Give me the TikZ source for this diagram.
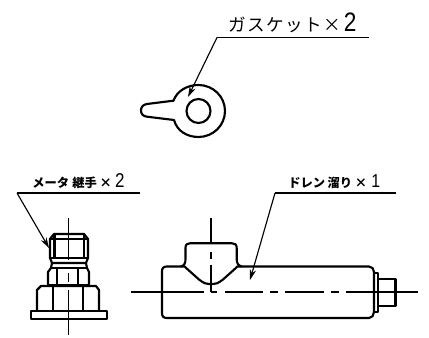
\documentclass[tikz,border=0pt]{standalone}
\usepackage{fontspec}
\setmainfont{Noto Sans CJK JP}
\newfontfamily\dgt{Liberation Sans}
\usetikzlibrary{arrows.meta}
\newcommand{\bigdig}[2]{{\mdseries\dgt\fontsize{#1}{#1}\selectfont\scalebox{0.85}[1]{#2}}}
\tikzset{
  body/.style={line width=1.6pt,line join=round,line cap=round},
  thin line/.style={line width=0.85pt},
  leader/.style={line width=0.85pt,-{Stealth[length=8pt,width=4.8pt]}},
  lbl/.style={inner sep=0pt,anchor=base west}
}
\begin{document}
\begin{tikzpicture}[x=0.75pt,y=-0.75pt]
\useasboundingbox (0,0) rectangle (429,338);
% gasket
\node[lbl,font=\fontsize{13.2pt}{14pt}\selectfont] (t1) at (228,31.5) {ガ\kern1pt ス\kern1pt ケ\kern1pt ッ\kern1pt ト\kern1.5pt ×\kern2pt\bigdig{20pt}{2}};
\coordinate (g1) at (217,37.5);
\coordinate (g2) at (369,37.5);
\coordinate (g3) at (188,97);
\draw[thin line] (g2) -- (g1);
\draw[leader] (g1) -- (g3);
\draw[body] (173.5,100.7) .. controls (177,91) and (187,85) .. (198.5,85)
  .. controls (213,85) and (225,96.5) .. (225,111) .. controls (225,125.5) and (213,137) .. (198.5,137)
  .. controls (187,137) and (177,131) .. (174,120)
  -- (147,116.7) .. controls (143,116.2) and (141,114) .. (141,110.5) .. controls (141,107) and (143,104.6) .. (147,104) -- cycle;
\node[body,draw,circle,minimum size=18pt,inner sep=0pt] (hole) at (198.5,111) {};
% meter joint
\node[lbl,font=\fontsize{9.2pt}{10pt}\selectfont\bfseries] (t2) at (32,187.5) {メータ\kern2.5pt 継手\kern2pt ×\kern2.5pt\bigdig{15pt}{2}};
\coordinate (m1) at (17,193);
\coordinate (m2) at (140,193);
\coordinate (m3) at (49,248);
\draw[thin line] (m2) -- (m1);
\draw[leader] (m1) -- (m3);
\draw[thin line] (68.3,218) -- (68.3,260) (68.3,273) -- (68.3,282) (68.3,290) -- (68.3,335);
\draw[body] (50,258) -- (50,239) -- (54,234) -- (84,234) -- (88,239) -- (88,258) -- (86,263) -- (52,263) -- cycle;
\draw[body] (54.5,234) -- (54.5,258) (84,234) -- (84,258);
\draw[body] (50,239) -- (88,239);
\draw[body] (50,258) -- (88,258);
\draw[body] (52,263) -- (51,268) -- (48,272) -- (48,284) (86,263) -- (87,268) -- (89,272) -- (89,284);
\draw[body] (51,268) -- (87,268);
\draw[body] (57,268) -- (57,284) (78,268) -- (78,284);
\draw[body] (37,311) -- (37,290) -- (41,286) -- (96,286) -- (99,290) -- (99,311);
\draw[body] (48,285) -- (89,285);
\draw[body] (53,286) -- (53,311) (83,286) -- (83,311);
\draw[body] (31,311) rectangle (107,319);
% drain
\node[lbl,font=\fontsize{9.2pt}{10pt}\selectfont\bfseries] (t3) at (288,187.5) {ドレン\kern2pt 溜り\kern2pt ×\kern3.2pt\bigdig{14pt}{1}};
\coordinate (d1) at (275,193);
\coordinate (d2) at (396,193);
\coordinate (d3) at (250,280);
\draw[thin line] (d2) -- (d1);
\draw[leader] (d1) -- (d3);
\draw[thin line] (211,218) -- (211,243) (211,252) -- (211,259) (211,265) -- (211,292);
\draw[thin line] (131,292) -- (203.5,292) (211,292) -- (217,292) (225,292) -- (263,292) (270,292) -- (278,292) (285,292) -- (324,292) (331,292) -- (339,292) (346,292) -- (418,292);
% body outline
\draw[body] (185,266.5) -- (167,266.5) .. controls (163.5,266.5) and (162,268) .. (162,271.5) -- (162,313) .. controls (162,316.5) and (163.5,318) .. (167,318) -- (369,318) .. controls (372,318) and (374,315) .. (374,312) -- (374,272) .. controls (374,269) and (372,266.5) .. (369,266.5) -- (237,266.5);
\draw[body] (181,266.5) .. controls (184.5,265.5) and (185.5,263) .. (185.5,259) -- (185.5,248) .. controls (185.5,244.5) and (187,243.3) .. (190,243.3) -- (232,243.3) .. controls (235,243.3) and (236.7,244.5) .. (236.7,248) -- (236.7,259) .. controls (236.7,263) and (238,265.5) .. (241.5,266.5);
\draw[body] (185,267) -- (199,279.5) .. controls (204,283.5) and (207,284.3) .. (211,284.3) .. controls (215,284.3) and (218,283.5) .. (223,279.5) -- (237,267);
\draw[body] (374,272.7) -- (378,272.7) -- (378,311.7) -- (374,311.7);
\draw[body] (378,279.3) -- (395.5,279.3) -- (395.5,306) -- (378,306);
\end{tikzpicture}
\end{document}
